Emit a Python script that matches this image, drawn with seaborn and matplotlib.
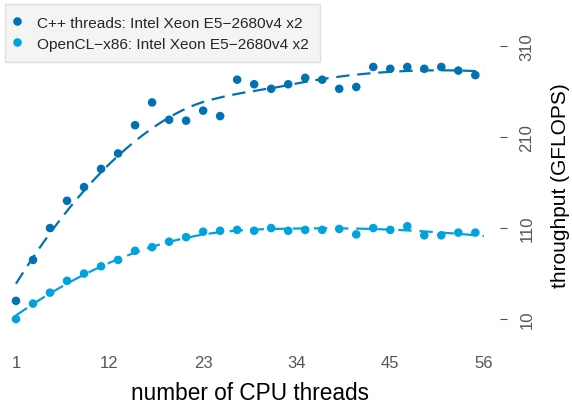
import numpy as np
import pandas as pd
import matplotlib
matplotlib.use("Agg")
import matplotlib.pyplot as plt
import seaborn as sns

# x: number of CPU threads, y: throughput in GFLOPS
threads = [1, 3, 5, 7, 9, 11, 13, 15, 17, 19, 21, 23, 25, 27,
           29, 31, 33, 35, 37, 39, 41, 43, 45, 47, 49, 51, 53, 55]
cpp_gflops = [30, 75, 110, 140, 155, 175, 192, 223, 248, 229, 228, 239, 233, 273,
              268, 263, 268, 275, 273, 263, 265, 287, 285, 287, 285, 287, 283, 278]
ocl_gflops = [10, 27, 39, 52, 60, 68, 75, 85, 89, 95, 100, 106, 107, 108,
              107, 110, 107, 108, 108, 109, 103, 110, 108, 112, 102, 102, 105, 105]
series_names = ["C++ threads: Intel Xeon E5\u22122680v4 x2",
                "OpenCL\u2212x86: Intel Xeon E5\u22122680v4 x2"]
colors = ["#0072B2", "#00A3DE"]
x_ticks = [1, 12, 23, 34, 45, 56]
y_ticks = [10, 110, 210, 310]


def loess(x, y, xs, span=0.75):
    # local quadratic regression with tricube weights (like geom_smooth)
    x = np.asarray(x, float)
    y = np.asarray(y, float)
    q = int(np.floor(len(x) * span))
    out = []
    for x0 in xs:
        d = np.abs(x - x0)
        h = np.sort(d)[q - 1]
        w = np.clip(1 - (d / h) ** 3, 0, None) ** 3
        X = np.column_stack([np.ones_like(x), x - x0, (x - x0) ** 2])
        XtW = X.T * w
        beta = np.linalg.solve(XtW @ X, XtW @ y)
        out.append(beta[0])
    return np.array(out)


df = pd.DataFrame({
    "threads": threads * 2,
    "gflops": cpp_gflops + ocl_gflops,
    "series": [series_names[0]] * len(threads) + [series_names[1]] * len(threads),
})

sns.set_theme(style="white")
plt.rcParams["font.family"] = ["Liberation Sans", "DejaVu Sans"]

fig = plt.figure(figsize=(5.72, 4.10), dpi=100)
ax = fig.add_axes([0.0, 69 / 410, 500 / 572, 311 / 410])

# smooth trend lines
grid = np.linspace(min(threads), 56, 120)
for vals, c in zip([cpp_gflops, ocl_gflops], colors):
    sns.lineplot(x=grid, y=loess(threads, vals, grid, span=0.9), color=c, ax=ax,
                 linewidth=1.6, linestyle=(0, (6, 3.5)))

sns.scatterplot(data=df, x="threads", y="gflops", hue="series",
                palette=colors, s=38, edgecolor="none", ax=ax, zorder=3)

ax.set_xlim(-0.88, 57.9)
ax.set_ylim(-13, 328.7)
ax.set_xticks(x_ticks)
ax.set_yticks(y_ticks)
for s in ax.spines.values():
    s.set_visible(False)

ax.yaxis.tick_right()
ax.yaxis.set_label_position("right")
ax.tick_params(axis="both", which="both", length=5, width=0.8, color="#4D4D4D",
               labelcolor="#555555", labelsize=12, direction="out")
ax.tick_params(axis="x", pad=6)
ax.tick_params(axis="y", pad=9)
for lab in ax.get_yticklabels():
    lab.set_rotation(90)
    lab.set_va("center")
    lab.set_ha("left")

ax.set_xlabel("number of CPU threads", fontsize=16.3, color="black", labelpad=8)
ax.set_ylabel("throughput (GFLOPS)", fontsize=15, color="black", labelpad=12)

handles, labels = ax.get_legend_handles_labels()
leg = ax.legend(handles, labels, loc="upper left",
                bbox_to_anchor=(5 / 572, 1 - 5 / 410),
                bbox_transform=fig.transFigure, borderaxespad=0,
                fontsize=11.1, frameon=True, fancybox=False,
                facecolor="#F2F2F2", edgecolor="#D9D9D9",
                handlelength=0.1, handletextpad=1.2, borderpad=0.75,
                labelspacing=0.45, markerscale=1.0)
leg.get_frame().set_linewidth(1.0)

fig.savefig("out.png", dpi=100)
